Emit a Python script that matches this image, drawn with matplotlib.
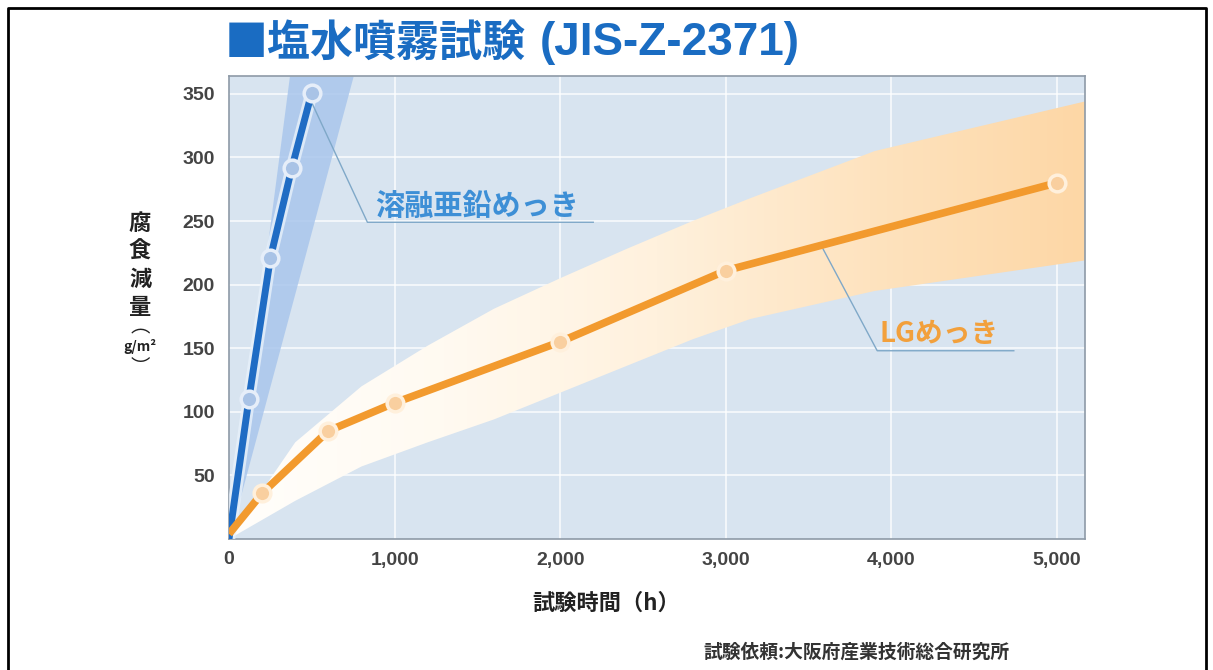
import numpy as np
import matplotlib
matplotlib.use("Agg")
import matplotlib.pyplot as plt
from matplotlib.colors import LinearSegmentedColormap

plt.rcParams['font.family'] = ['Noto Sans CJK JP', 'DejaVu Sans']

# 溶融亜鉛めっき (hot-dip galvanizing)
zinc_hours = [0, 120, 250, 380, 500]
zinc_loss = [0, 110, 221, 292, 351]

# LGめっき
lg_hours = [0, 200, 600, 1000, 2000, 3000, 5000]
lg_loss = [4, 36, 85, 107, 155, 211, 280]

# scatter bands drawn behind each series
zinc_band_y = [0, 364]
zinc_band_lo = [0, 365]
zinc_band_hi = [0, 750]

lg_band_x = [0, 400, 800, 1200, 1600, 2000, 2400, 2800, 3150, 3900, 5170]
lg_band_lo = [0, 30, 57, 76, 94, 115, 136, 157, 173, 195, 219]
lg_band_hi = [0, 76, 120, 152, 181, 205, 228, 250, 268, 305, 344]

x_ticks = [0, 1000, 2000, 3000, 4000, 5000]
x_ticklabels = ['0', '1,000', '2,000', '3,000', '4,000', '5,000']
y_ticks = [50, 100, 150, 200, 250, 300, 350]

title_jp = '■塩水噴霧試験'
title_std = '(JIS-Z-2371)'
xlabel = '試験時間（h）'
ylabel_chars = ['腐', '食', '減', '量']
footer = '試験依頼:大阪府産業技術総合研究所'

W, H = 1213, 670
fig = plt.figure(figsize=(W / 100, H / 100), dpi=100)
fig.patch.set_facecolor('white')

ax = fig.add_axes([229 / W, 1 - 539 / H, (1085 - 229) / W, (539 - 76) / H])
ax.set_facecolor('#d8e4f0')

xmax, ymax = 5170, 364

# grid
for xv in x_ticks[1:]:
    ax.axvline(xv, color='white', lw=1.4, alpha=0.7, zorder=1)
for yv in y_ticks:
    ax.axhline(yv, color='white', lw=1.4, alpha=0.7, zorder=1)

# blue band
ax.fill_betweenx(zinc_band_y, zinc_band_lo, zinc_band_hi, color='#a9c6ec',
                 alpha=0.85, lw=0, zorder=2)

# orange band with horizontal gradient
band = ax.fill_between(lg_band_x, lg_band_lo, lg_band_hi, facecolor='none',
                       edgecolor='none', zorder=2)
cmap = LinearSegmentedColormap.from_list(
    'lgband', ['#fffefb', '#fffaf1', '#fff1dd', '#fee3bf', '#fdd7a6'])
grad = np.linspace(0, 1, 256).reshape(1, -1)
img = ax.imshow(grad, extent=[0, xmax, 0, ymax], aspect='auto', cmap=cmap,
                zorder=2, interpolation='bicubic')
img.set_clip_path(band.get_paths()[0], ax.transData)

# series lines
ax.plot(zinc_hours, zinc_loss, color='#e8f1fb', lw=9, alpha=0.8,
        solid_capstyle='round', zorder=3)
ax.plot(zinc_hours, zinc_loss, color='#1f6cc4', lw=5, zorder=4,
        solid_capstyle='butt')
ax.plot(zinc_hours[1:], zinc_loss[1:], 'o', ms=12, mfc='#a9c3e6',
        mec='#e6eef9', mew=2.5, zorder=5)

ax.plot(lg_hours, lg_loss, color='#f29a2e', lw=5.5, zorder=4,
        solid_capstyle='butt')
ax.plot(lg_hours[1:], lg_loss[1:], 'o', ms=12, mfc='#f9cf9f',
        mec='#fff0dc', mew=2.5, zorder=5)

# callouts
ax.plot([500, 836, 2200], [343, 249, 249], color='#7fa8c8', lw=1, zorder=3)
ax.text(880, 262, '溶融亜鉛めっき', color='#3d8fd6', fontsize=21,
        fontweight='bold', va='center', ha='left', zorder=6)

ax.plot([3588, 3915, 4740], [228, 148, 148], color='#7fa8c8', lw=1, zorder=3)
ax.text(3930, 161, 'LGめっき', color='#f2a03c', fontsize=20,
        fontweight='bold', va='center', ha='left', zorder=6)

ax.set_xlim(0, xmax)
ax.set_ylim(0, ymax)
ax.set_xticks(x_ticks)
ax.set_xticklabels(x_ticklabels)
ax.set_yticks(y_ticks)
ax.tick_params(length=0, labelsize=14, labelcolor='#444444')
ax.tick_params(axis='x', pad=9)
ax.tick_params(axis='y', pad=10)
for lab in ax.get_xticklabels() + ax.get_yticklabels():
    lab.set_family(['Liberation Sans'])
    lab.set_fontweight('bold')
for sp in ax.spines.values():
    sp.set_color('#8e9aa7')
    sp.set_linewidth(1.2)

# title: Japanese part, then the standard number in a Latin face
t1 = fig.text(225 / W, 1 - 43 / H, title_jp, color='#1a6cc2', fontsize=31,
              fontweight='bold', va='center', ha='left')
renderer = fig.canvas.get_renderer()
x_end = t1.get_window_extent(renderer).x1
fig.text((x_end + 14) / W, 1 - 43 / H, title_std, color='#1a6cc2',
         fontsize=33, fontweight='bold', va='center', ha='left',
         family=['Liberation Sans'])

fig.text(606 / W, 1 - 603 / H, xlabel, color='#222222', fontsize=16,
         fontweight='bold', va='center', ha='center')
for i, ch in enumerate(ylabel_chars):
    fig.text(140 / W, 1 - (223 + 28 * i) / H, ch, color='#222222',
             fontsize=16, fontweight='bold', va='center', ha='center')
fig.text(140 / W, 1 - 327 / H, '︵', color='#222222', fontsize=14,
         va='center', ha='center')
fig.text(140 / W, 1 - 347 / H, 'g/m²', color='#222222', fontsize=10,
         fontweight='bold', va='center', ha='center')
fig.text(140 / W, 1 - 368 / H, '︶', color='#222222', fontsize=14,
         va='center', ha='center')
fig.text(1010 / W, 1 - 652 / H, footer, color='#333333', fontsize=13.5,
         fontweight='bold', va='center', ha='right')

# outer frame (open at the bottom)
fig.add_artist(plt.Line2D([8 / W, 8 / W, 1206 / W, 1206 / W],
                          [0, 1 - 8 / H, 1 - 8 / H, 0],
                          transform=fig.transFigure, color='black', lw=2))

fig.savefig('out.png', dpi=100)
